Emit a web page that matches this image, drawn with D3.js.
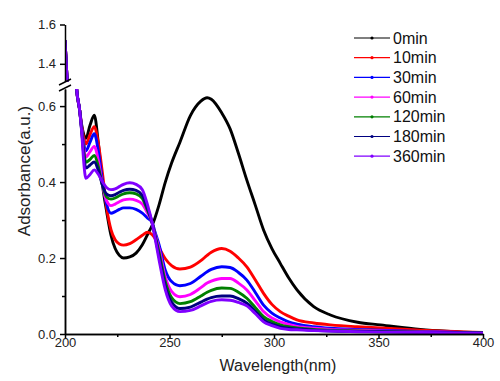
<!DOCTYPE html>
<html>
<head>
<meta charset="utf-8">
<script src="https://cdn.jsdelivr.net/npm/d3@7"></script>
<style>
  body { margin: 0; background: #fff; }
  text { font-family: "Liberation Sans", Arial, sans-serif; }
</style>
</head>
<body>
<div id="chart"></div>
<script>
// wavelength grid (nm) shared by every spectrum
var wavelengths = [200, 200.5, 201, 202, 203, 204, 205, 205.5, 207,
    208, 209, 210, 212, 214, 216, 218, 220, 222, 224,
    226, 228, 231, 234, 237, 239.5, 241.6, 243, 245, 248,
    251, 255, 260, 265, 268, 270, 275, 279, 283, 287,
    291, 295, 299, 303, 307, 311, 319, 327, 340, 351,
    370, 400];

var labels = ["0min", "10min", "30min", "60min", "120min", "180min", "360min"];
var colors = ["#000000", "#ff0000", "#0000ff", "#ff00ff", "#008000", "#000080", "#8000ff"];

// absorbance
var abs0 = [1.52, 1.42, 1.32, 1.12, 0.96, 0.82, 0.70, 0.65, 0.59,
    0.55, 0.525, 0.515, 0.55, 0.576, 0.50, 0.39, 0.32, 0.26, 0.225,
    0.207, 0.20, 0.203, 0.213, 0.235, 0.262, 0.285, 0.305, 0.34, 0.40,
    0.45, 0.505, 0.575, 0.613, 0.622, 0.618, 0.582, 0.54, 0.475, 0.405,
    0.34, 0.274, 0.225, 0.186, 0.148, 0.116, 0.072, 0.05, 0.031, 0.024,
    0.012, 0.003];
var abs10 = [1.52, 1.42, 1.32, 1.12, 0.96, 0.82, 0.70, 0.65, 0.59,
    0.545, 0.515, 0.50, 0.525, 0.546, 0.50, 0.42, 0.33, 0.275, 0.248,
    0.237, 0.234, 0.238, 0.248, 0.26, 0.268, 0.262, 0.252, 0.228, 0.198,
    0.18, 0.171, 0.176, 0.193, 0.207, 0.215, 0.225, 0.218, 0.20, 0.177,
    0.143, 0.107, 0.078, 0.059, 0.047, 0.037, 0.029, 0.024, 0.019, 0.016,
    0.01, 0.004];
var abs30 = [1.52, 1.42, 1.32, 1.12, 0.96, 0.82, 0.70, 0.65, 0.59,
    0.54, 0.50, 0.482, 0.505, 0.527, 0.48, 0.40, 0.34, 0.318, 0.322,
    0.328, 0.332, 0.332, 0.328, 0.318, 0.305, 0.295, 0.27, 0.235, 0.168,
    0.138, 0.127, 0.133, 0.152, 0.164, 0.17, 0.177, 0.175, 0.162, 0.142,
    0.11, 0.076, 0.055, 0.042, 0.032, 0.026, 0.019, 0.015, 0.012, 0.01,
    0.007, 0.003];
var abs60 = [1.52, 1.42, 1.32, 1.12, 0.96, 0.82, 0.70, 0.65, 0.59,
    0.54, 0.49, 0.466, 0.48, 0.494, 0.455, 0.39, 0.35, 0.338, 0.342,
    0.348, 0.353, 0.355, 0.352, 0.342, 0.318, 0.295, 0.265, 0.225, 0.15,
    0.112, 0.098, 0.104, 0.122, 0.134, 0.139, 0.146, 0.146, 0.134, 0.116,
    0.088, 0.059, 0.042, 0.032, 0.025, 0.02, 0.015, 0.012, 0.01, 0.008,
    0.006, 0.003];
var abs120 = [1.52, 1.42, 1.32, 1.12, 0.96, 0.82, 0.70, 0.65, 0.59,
    0.535, 0.48, 0.452, 0.46, 0.47, 0.44, 0.39, 0.36, 0.355, 0.358,
    0.364, 0.369, 0.372, 0.369, 0.357, 0.325, 0.295, 0.262, 0.215, 0.138,
    0.096, 0.08, 0.085, 0.10, 0.11, 0.115, 0.121, 0.12, 0.11, 0.094,
    0.07, 0.046, 0.033, 0.024, 0.019, 0.016, 0.012, 0.01, 0.008, 0.007,
    0.005, 0.003];
var abs180 = [1.52, 1.42, 1.32, 1.12, 0.96, 0.82, 0.70, 0.65, 0.59,
    0.535, 0.47, 0.437, 0.445, 0.453, 0.43, 0.39, 0.368, 0.364, 0.367,
    0.373, 0.378, 0.381, 0.378, 0.365, 0.33, 0.295, 0.26, 0.205, 0.126,
    0.084, 0.067, 0.071, 0.084, 0.092, 0.096, 0.10, 0.10, 0.093, 0.081,
    0.06, 0.037, 0.026, 0.019, 0.015, 0.013, 0.01, 0.008, 0.007, 0.006,
    0.005, 0.003];
var abs360 = [1.52, 1.42, 1.32, 1.12, 0.96, 0.82, 0.70, 0.65, 0.59,
    0.53, 0.45, 0.41, 0.42, 0.432, 0.42, 0.40, 0.385, 0.38, 0.382,
    0.388, 0.394, 0.398, 0.394, 0.38, 0.34, 0.295, 0.255, 0.195, 0.116,
    0.074, 0.059, 0.062, 0.074, 0.082, 0.086, 0.09, 0.089, 0.083, 0.074,
    0.054, 0.032, 0.022, 0.015, 0.012, 0.011, 0.009, 0.008, 0.006, 0.005,
    0.004, 0.002];

var xTicks = [200, 250, 300, 350, 400];
var xMinor = [225, 275, 325, 375];
var yLowTicks = [0.0, 0.2, 0.4, 0.6];
var yLowMinor = [0.1, 0.3, 0.5];
var yHighTicks = [1.4, 1.6];

var allSeries = [abs0, abs10, abs30, abs60, abs120, abs180, abs360];

var svg = d3.select("#chart").append("svg").attr("width", 500).attr("height", 381);

// broken y axis: lower part 0..0.645, upper part 1.31..1.6
var x = d3.scaleLinear().domain([200, 400]).range([65, 483]);
var yLow = d3.scaleLinear().domain([0, 0.645]).range([334, 89]);
var yHigh = d3.scaleLinear().domain([1.31, 1.6]).range([81.5, 24.5]);

var defs = svg.append("defs");
defs.append("clipPath").attr("id", "clipLow").append("rect")
    .attr("x", 65).attr("y", 89).attr("width", 421).attr("height", 247);
defs.append("clipPath").attr("id", "clipHigh").append("rect")
    .attr("x", 65).attr("y", 24.5).attr("width", 421).attr("height", 57);

var lowGroup = svg.append("g").attr("clip-path", "url(#clipLow)");
var highGroup = svg.append("g").attr("clip-path", "url(#clipHigh)");

function makeLine(yScale) {
    return d3.line()
        .x(function (d, i) { return x(wavelengths[i]); })
        .y(function (d) { return yScale(d); })
        .curve(d3.curveMonotoneX);
}

allSeries.forEach(function (s, k) {
    lowGroup.append("path").datum(s)
        .attr("d", makeLine(yLow))
        .attr("fill", "none").attr("stroke", colors[k]).attr("stroke-width", 2.9)
        .attr("stroke-linejoin", "round");
    highGroup.append("path").datum(s)
        .attr("d", makeLine(yHigh))
        .attr("fill", "none").attr("stroke", colors[k]).attr("stroke-width", 2.9)
        .attr("stroke-linejoin", "round");
});

// axes
var axisStyle = function (g) {
    g.selectAll("path, line").attr("stroke", "#000").attr("stroke-width", 1.5);
    g.selectAll("text").style("font-size", "13px").attr("fill", "#222");
};

svg.append("g").attr("transform", "translate(0,334)")
    .call(d3.axisBottom(x).tickValues(xTicks).tickSize(4).tickPadding(0).tickSizeOuter(0).tickFormat(d3.format("d")))
    .call(axisStyle);
svg.append("g").attr("transform", "translate(0,334)")
    .call(d3.axisBottom(x).tickValues(xMinor).tickSize(3).tickSizeOuter(0).tickFormat(""))
    .call(axisStyle);

svg.append("g").attr("transform", "translate(65,0)")
    .call(d3.axisLeft(yLow).tickValues(yLowTicks).tickSize(5).tickPadding(4).tickSizeOuter(0).tickFormat(d3.format(".1f")))
    .call(axisStyle);
svg.append("g").attr("transform", "translate(65,0)")
    .call(d3.axisLeft(yLow).tickValues(yLowMinor).tickSize(3).tickSizeOuter(0).tickFormat(""))
    .call(axisStyle);
svg.append("g").attr("transform", "translate(65,0)")
    .call(d3.axisLeft(yHigh).tickValues(yHighTicks).tickSize(5).tickPadding(4).tickSizeOuter(0).tickFormat(d3.format(".1f")))
    .call(axisStyle);

// break marks on the y axis
svg.append("line").attr("x1", 59).attr("y1", 85).attr("x2", 71).attr("y2", 79)
    .attr("stroke", "#000").attr("stroke-width", 1.5);
svg.append("line").attr("x1", 59).attr("y1", 91).attr("x2", 71).attr("y2", 85)
    .attr("stroke", "#000").attr("stroke-width", 1.5);

// axis titles
svg.append("text").text("Wavelength(nm)").attr("x", 278).attr("y", 371)
    .attr("text-anchor", "middle").style("font-size", "16px").attr("fill", "#222");
svg.append("text").text("Adsorbance(a.u.)").attr("transform", "translate(30,171) rotate(-90)")
    .attr("text-anchor", "middle").style("font-size", "17px").attr("fill", "#222");

// legend
var legend = svg.append("g");
labels.forEach(function (name, k) {
    var ly = 38 + k * 19.7;
    legend.append("line").attr("x1", 354).attr("x2", 390).attr("y1", ly).attr("y2", ly)
        .attr("stroke", colors[k]).attr("stroke-width", 1.2);
    legend.append("circle").attr("cx", 372).attr("cy", ly).attr("r", 1.6).attr("fill", colors[k]);
    legend.append("text").text(name).attr("x", 393).attr("y", ly).attr("dy", "0.35em")
        .style("font-size", "16px").attr("fill", "#111");
});
</script>
</body>
</html>
